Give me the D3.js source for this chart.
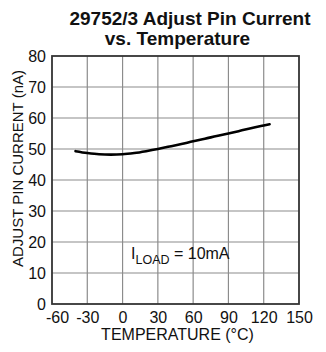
<!DOCTYPE html>
<html><head><meta charset="utf-8">
<script src="https://cdn.jsdelivr.net/npm/d3@7"></script>
<style>body{margin:0;background:#fff}svg{display:block}</style>
</head><body>
<svg id="c" width="326" height="352"></svg>
<script>
const temps = [-40, -30, -20, -10, 0, 10, 20, 30, 40, 50, 60, 70, 80, 90, 100, 110, 120, 125];
const current = [49.3, 48.7, 48.3, 48.2, 48.3, 48.7, 49.3, 50.0, 50.8, 51.6, 52.5, 53.3, 54.2, 55.0, 55.9, 56.8, 57.6, 58.0];
const xTicks = [-60, -30, 0, 30, 60, 90, 120, 150];
const yTicks = [0, 10, 20, 30, 40, 50, 60, 70, 80];
const titleLines = ["29752/3 Adjust Pin Current", "vs. Temperature"];
const xTitle = "TEMPERATURE (°C)";
const yTitle = "ADJUST PIN CURRENT (nA)";

const font = "'Liberation Sans', Arial, sans-serif";
const L = 52, R = 299, T = 56, B = 304;
const svg = d3.select("#c");
const x = d3.scaleLinear().domain([-60, 150]).range([L, R]);
const y = d3.scaleLinear().domain([0, 80]).range([B, T]);

// title
svg.append("text").attr("x", 190).attr("y", 25).attr("text-anchor", "middle")
  .attr("font-family", font).attr("font-weight", "bold").attr("font-size", 19)
  .attr("fill", "#111").text(titleLines[0]);
svg.append("text").attr("x", 177.5).attr("y", 45).attr("text-anchor", "middle")
  .attr("font-family", font).attr("font-weight", "bold").attr("font-size", 19)
  .attr("fill", "#111").text(titleLines[1]);

// grid
const g = svg.append("g");
g.selectAll("line.v").data(xTicks.slice(1, -1)).join("line")
  .attr("x1", d => x(d)).attr("x2", d => x(d)).attr("y1", T).attr("y2", B)
  .attr("stroke", "#8c8c8c").attr("stroke-width", 1.2);
g.selectAll("line.h").data(yTicks.slice(1, -1)).join("line")
  .attr("x1", L).attr("x2", R).attr("y1", d => y(d)).attr("y2", d => y(d))
  .attr("stroke", "#8c8c8c").attr("stroke-width", 1.2);
svg.append("rect").attr("x", L).attr("y", T).attr("width", R - L).attr("height", B - T)
  .attr("fill", "none").attr("stroke", "#333").attr("stroke-width", 1.8);

// axes labels via d3 axes
const fmt = d => String(d);
const xAxis = svg.append("g").attr("transform", `translate(0,${B})`)
  .call(d3.axisBottom(x).tickValues(xTicks).tickSize(0).tickPadding(8).tickFormat(fmt));
const yAxis = svg.append("g").attr("transform", `translate(${L},0)`)
  .call(d3.axisLeft(y).tickValues(yTicks).tickSize(0).tickPadding(6).tickFormat(fmt));
[xAxis, yAxis].forEach(a => {
  a.select(".domain").remove();
  a.selectAll("text").attr("font-family", font).attr("font-size", 16).attr("fill", "#111");
});
xAxis.selectAll("text").attr("dy", "0.71em").attr("dx", d => d === -60 ? 5 : 0);

// axis titles
svg.append("text").attr("x", 177.5).attr("y", 340).attr("text-anchor", "middle")
  .attr("font-family", font).attr("font-size", 16).attr("fill", "#111").text(xTitle);
svg.append("text").attr("transform", "translate(22.5,168.5) rotate(-90)").attr("text-anchor", "middle")
  .attr("font-family", font).attr("font-size", 15).attr("fill", "#111").text(yTitle);

// curve
const line = d3.line().x((d, i) => x(temps[i])).y(d => y(d)).curve(d3.curveMonotoneX);
svg.append("path").datum(current).attr("d", line)
  .attr("fill", "none").attr("stroke", "#000").attr("stroke-width", 2.6).attr("stroke-linecap", "round");

// annotation
const ann = svg.append("text").attr("x", 131).attr("y", 258.5)
  .attr("font-family", font).attr("font-size", 16).attr("fill", "#111");
ann.append("tspan").text("I");
ann.append("tspan").attr("dy", 5).attr("font-size", 12.5).text("LOAD");
ann.append("tspan").attr("dy", -5).text(" = 10mA");
</script>
</body></html>
